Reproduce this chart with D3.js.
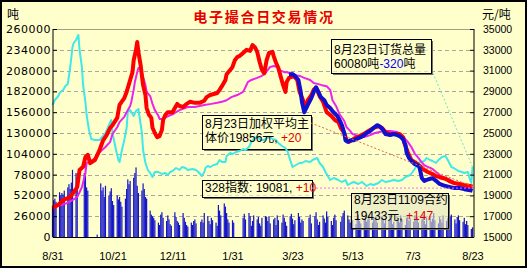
<!DOCTYPE html>
<html><head><meta charset="utf-8">
<script src="https://cdn.jsdelivr.net/npm/d3@7/dist/d3.min.js"></script>
<style>html,body{margin:0;padding:0;background:#fff;overflow:hidden}</style>
</head><body><svg id="c" width="528" height="271"></svg>
<script>
// ---------- data ----------
const title = "电子撮合日交易情况";
const leftUnit = "吨", rightUnit = "元/吨";
const leftTicks = [0,26000,52000,78000,104000,130000,156000,182000,208000,234000,260000];
const rightTicks = [15000,17000,19000,21000,23000,25000,27000,29000,31000,33000,35000];
const xTickDates = ["2010-08-31","2010-10-21","2010-12-11","2011-01-31","2011-03-23","2011-05-13","2011-07-03","2011-08-23"];
const holidays = ["2010-09-22","2010-09-23","2010-09-24","2010-10-01","2010-10-04","2010-10-05","2010-10-06","2010-10-07",
  "2011-01-03","2011-02-02","2011-02-03","2011-02-04","2011-02-07","2011-02-08","2011-04-04","2011-04-05","2011-05-02","2011-06-06"];

// daily volume (tons), one array per month of trading days
const vol201008 = [37500];
const vol201009 = [46000,48000,44000,56000,52000,55000,53000,58000,62000,66000,60000,68000,84000,80000,75000,80000,92000,62000,58000];
const vol201010 = [3000,67000,58000,62000,50000,64000,52000,57000,61000,45000,40000,52000,47000,50000,44000,38000];
const vol201011 = [48000,60000,72000,66000,70000,74000,80000,87000,64000,55000,58000,67000,60000,50000,48000,33000,28000,26000,24000,21000,18000,15000];
const vol201012 = [28000,31000,24000,20000,27000,22000,16000,14000,31000,25000,20000,18000,15000,30000,24000,19000,15000,13000,18000,15000,20000,22000,17000];
const vol201101 = [19000,22000,18000,30000,26000,20000,16000,24000,21000,18000,14000,40000,33000,27000,42000,38000,30000,22000,18000,21000];
const vol201102 = [18000,24000,29000,22000,30000,26000,14000,20000,27000,22000,25000,17000,14000,24000,26000];
const vol201103 = [25000,20000,26000,17000,22000,24000,15000,27000,21000,18000,28000,24000,19000,14000,26000,29000,23000,16000,21000,30000,25000,18000,22000];
const vol201104 = [20000,24000,28000,17000,26000,31000,22000,15000,19000,27000,23000,18000,32000,25000,20000,15000,24000,28000,21000];
const vol201105 = [19000,25000,30000,33000,27000,22000,18000,26000,21000,16000,24000,28000,20000,17000,23000,26000,19000,22000,27000,18000,24000];
const vol201106 = [21000,25000,18000,26000,22000,17000,24000,20000,28000,23000,16000,19000,25000,21000,18000,27000,22000,15000,24000,26000,20000];
const vol201107 = [23000,19000,27000,21000,25000,18000,22000,28000,20000,16000,24000,26000,19000,23000,30000,21000,17000,25000,22000,18000,27000];
const vol201108 = [20000,24000,18000,26000,28000,22000,17000,25000,27000,21000,19000,24000,16000,20000,15000,10000,12000];

// 订货总量 (tons, left axis)
const orderTotal = [["2010-08-31",165000],["2010-09-02",171250],["2010-09-05",176250],["2010-09-06",180000],["2010-09-09",183750],["2010-09-11",188750],["2010-09-13",191250],["2010-09-15",211250],["2010-09-17",237500],["2010-09-18",242500],["2010-09-20",246250],["2010-09-22",252500],["2010-09-23",233750],["2010-09-25",212500],["2010-09-26",190000],["2010-09-28",168750],["2010-09-29",152500],["2010-10-01",133750],["2010-10-03",122500],["2010-10-06",121250],["2010-10-10",121250],["2010-10-13",126250],["2010-10-15",130000],["2010-10-17",136250],["2010-10-19",143750],["2010-10-20",146250],["2010-10-21",130000],["2010-10-24",108750],["2010-10-26",96250],["2010-10-27",93750],["2010-10-29",108750],["2010-10-31",121250],["2010-11-02",136250],["2010-11-03",156250],["2010-11-05",158750],["2010-11-07",153750],["2010-11-08",151250],["2010-11-10",157500],["2010-11-12",160000],["2010-11-13",150000],["2010-11-15",130000],["2010-11-16",108750],["2010-11-18",92500],["2010-11-20",83750],["2010-11-22",80000],["2010-11-24",75000],["2010-11-26",81250],["2010-11-29",81250],["2010-12-02",78750],["2010-12-05",80000],["2010-12-07",77500],["2010-12-09",81250],["2010-12-11",82500],["2010-12-14",86250],["2010-12-17",83750],["2010-12-19",87500],["2010-12-22",86250],["2010-12-24",83750],["2010-12-28",85000],["2010-12-31",83750],["2011-01-02",81250],["2011-01-05",76250],["2011-01-07",81250],["2011-01-08",86250],["2011-01-10",88750],["2011-01-12",87500],["2011-01-15",90000],["2011-01-18",91250],["2011-01-20",96250],["2011-01-22",93750],["2011-01-25",93750],["2011-01-26",101250],["2011-01-29",105000],["2011-01-31",103750],["2011-02-03",106250],["2011-02-06",107500],["2011-02-09",110000],["2011-02-11",108750],["2011-02-14",112500],["2011-02-16",118750],["2011-02-19",123750],["2011-02-21",125000],["2011-02-24",121250],["2011-02-27",121250],["2011-03-01",123750],["2011-03-04",125000],["2011-03-06",122500],["2011-03-09",121250],["2011-03-11",117500],["2011-03-14",113750],["2011-03-17",111250],["2011-03-19",106250],["2011-03-21",96250],["2011-03-23",87500],["2011-03-26",90000],["2011-03-29",92500],["2011-03-31",92500],["2011-04-03",95000],["2011-04-07",93750],["2011-04-09",96250],["2011-04-13",98750],["2011-04-15",92500],["2011-04-18",87500],["2011-04-20",81250],["2011-04-24",71250],["2011-04-27",73750],["2011-05-01",71250],["2011-05-04",68750],["2011-05-07",71250],["2011-05-09",65000],["2011-05-12",67500],["2011-05-14",68750],["2011-05-18",66250],["2011-05-21",68750],["2011-05-25",63750],["2011-05-28",66250],["2011-05-31",65000],["2011-06-04",67500],["2011-06-07",71250],["2011-06-10",68750],["2011-06-14",70000],["2011-06-17",71250],["2011-06-21",70000],["2011-06-24",71250],["2011-06-27",75000],["2011-07-01",77500],["2011-07-03",81250],["2011-07-06",87500],["2011-07-08",92500],["2011-07-10",93750],["2011-07-13",95000],["2011-07-15",98750],["2011-07-18",96250],["2011-07-20",95000],["2011-07-23",92500],["2011-07-25",96250],["2011-07-28",100000],["2011-07-31",101250],["2011-08-02",96250],["2011-08-05",87500],["2011-08-07",86250],["2011-08-11",82500],["2011-08-14",81250],["2011-08-16",80000],["2011-08-19",81250],["2011-08-21",71250],["2011-08-22",67500],["2011-08-23",87500]];

// 加权平均主体价 (yuan/ton, right axis)
const weightedPrice = [["2010-08-31",17800],["2010-09-05",18100],["2010-09-09",18550],["2010-09-15",18850],["2010-09-18",19300],["2010-09-21",19800],["2010-09-23",21450],["2010-09-26",21750],["2010-09-28",22700],["2010-09-30",22900],["2010-10-02",22100],["2010-10-06",22400],["2010-10-10",23350],["2010-10-13",24300],["2010-10-16",24800],["2010-10-19",25500],["2010-10-21",25750],["2010-10-25",26450],["2010-10-27",27700],["2010-10-31",28350],["2010-11-02",28950],["2010-11-05",30100],["2010-11-07",30850],["2010-11-08",32000],["2010-11-10",33000],["2010-11-11",33750],["2010-11-12",32800],["2010-11-14",31450],["2010-11-16",29600],["2010-11-18",28650],["2010-11-19",27400],["2010-11-21",26750],["2010-11-23",26450],["2010-11-24",25500],["2010-11-26",25000],["2010-11-28",24600],["2010-11-30",24700],["2010-12-02",25300],["2010-12-03",26250],["2010-12-05",26750],["2010-12-07",27000],["2010-12-11",27000],["2010-12-13",27400],["2010-12-15",27800],["2010-12-17",27600],["2010-12-20",27500],["2010-12-23",27800],["2010-12-26",28000],["2010-12-30",27900],["2011-01-03",27900],["2011-01-07",28100],["2011-01-09",28450],["2011-01-12",28650],["2011-01-15",28750],["2011-01-18",28850],["2011-01-20",29150],["2011-01-22",29500],["2011-01-25",30100],["2011-01-26",30650],["2011-01-29",31050],["2011-01-31",31350],["2011-02-02",32000],["2011-02-04",32300],["2011-02-06",32400],["2011-02-09",32700],["2011-02-12",33000],["2011-02-15",32900],["2011-02-17",33450],["2011-02-19",33250],["2011-02-21",32800],["2011-02-23",31850],["2011-02-25",31050],["2011-02-27",30750],["2011-03-01",32000],["2011-03-03",32700],["2011-03-06",32800],["2011-03-07",32400],["2011-03-09",31750],["2011-03-11",31250],["2011-03-13",30400],["2011-03-15",29600],["2011-03-17",28950],["2011-03-18",29900],["2011-03-20",30300],["2011-03-22",30400],["2011-03-24",30500],["2011-03-27",30100],["2011-03-29",28950],["2011-04-01",28150],["2011-04-03",27400],["2011-04-05",28150],["2011-04-08",28650],["2011-04-10",29150],["2011-04-12",29350],["2011-04-15",28550],["2011-04-18",28000],["2011-04-21",27000],["2011-04-25",26650],["2011-04-28",26250],["2011-05-01",26050],["2011-05-03",25500],["2011-05-06",25000],["2011-05-08",24300],["2011-05-10",24150],["2011-05-15",24500],["2011-05-19",24700],["2011-05-24",25000],["2011-05-28",25300],["2011-06-01",25550],["2011-06-04",25650],["2011-06-07",25500],["2011-06-10",25100],["2011-06-14",24900],["2011-06-18",24900],["2011-06-22",24900],["2011-06-25",24600],["2011-06-26",24050],["2011-06-29",23150],["2011-07-02",22400],["2011-07-05",22200],["2011-07-09",21850],["2011-07-13",21450],["2011-07-16",21250],["2011-07-20",21050],["2011-07-23",20850],["2011-07-26",20750],["2011-07-31",20600],["2011-08-03",20400],["2011-08-07",20200],["2011-08-12",20100],["2011-08-16",20000],["2011-08-21",19900],["2011-08-23",19856]];

// 1109合约 (yuan/ton, right axis)
const contract1109 = [["2011-03-20",30600],["2011-03-23",30650],["2011-03-25",30500],["2011-03-28",30100],["2011-03-30",28950],["2011-03-31",28000],["2011-04-02",27000],["2011-04-05",27700],["2011-04-08",28350],["2011-04-10",28950],["2011-04-12",29400],["2011-04-14",28950],["2011-04-16",28450],["2011-04-19",28150],["2011-04-21",27700],["2011-04-24",27400],["2011-04-26",27100],["2011-04-30",26650],["2011-05-02",26250],["2011-05-04",25750],["2011-05-06",25000],["2011-05-07",24300],["2011-05-09",24150],["2011-05-12",24300],["2011-05-14",24300],["2011-05-18",24500],["2011-05-20",24600],["2011-05-23",24800],["2011-05-25",25000],["2011-05-28",25200],["2011-05-31",25500],["2011-06-03",25750],["2011-06-05",25650],["2011-06-08",25300],["2011-06-10",24900],["2011-06-14",24800],["2011-06-17",24900],["2011-06-20",24800],["2011-06-22",24700],["2011-06-25",24400],["2011-06-27",23850],["2011-06-28",23100],["2011-06-30",22600],["2011-07-03",22200],["2011-07-05",22000],["2011-07-08",21850],["2011-07-09",21650],["2011-07-11",20650],["2011-07-13",20400],["2011-07-15",20500],["2011-07-18",20600],["2011-07-20",20650],["2011-07-23",20400],["2011-07-26",20100],["2011-07-31",19900],["2011-08-04",19800],["2011-08-08",19700],["2011-08-12",19700],["2011-08-16",19600],["2011-08-21",19500],["2011-08-23",19433]];

// 328指数 (right axis)
const index328 = [["2010-08-31",17800],["2010-09-05",18000],["2010-09-12",18250],["2010-09-17",18550],["2010-09-21",18850],["2010-09-23",19300],["2010-09-25",19800],["2010-09-28",21150],["2010-09-29",22100],["2010-10-02",22300],["2010-10-04",22400],["2010-10-08",22700],["2010-10-10",23150],["2010-10-15",23650],["2010-10-19",24150],["2010-10-21",24900],["2010-10-25",25550],["2010-10-27",26050],["2010-10-31",26550],["2010-11-02",27000],["2010-11-05",27600],["2010-11-06",28000],["2010-11-08",29150],["2010-11-09",29900],["2010-11-11",30850],["2010-11-12",31250],["2010-11-14",31150],["2010-11-16",30400],["2010-11-18",29600],["2010-11-19",28950],["2010-11-22",28550],["2010-11-24",27800],["2010-11-26",27200],["2010-11-29",26650],["2010-11-30",26350],["2010-12-03",26350],["2010-12-06",26550],["2010-12-11",26800],["2010-12-14",27000],["2010-12-17",27200],["2010-12-24",27500],["2010-12-30",27500],["2011-01-03",27600],["2011-01-07",27700],["2011-01-13",27800],["2011-01-18",27900],["2011-01-22",28000],["2011-01-26",28150],["2011-01-30",28450],["2011-02-04",28650],["2011-02-09",28950],["2011-02-11",29400],["2011-02-13",29900],["2011-02-16",30100],["2011-02-21",30300],["2011-02-25",30500],["2011-02-28",30750],["2011-03-04",31350],["2011-03-07",31450],["2011-03-10",31350],["2011-03-12",31050],["2011-03-16",30850],["2011-03-18",30850],["2011-03-23",30750],["2011-03-27",30500],["2011-03-29",30500],["2011-04-02",30300],["2011-04-07",30100],["2011-04-10",29800],["2011-04-14",29700],["2011-04-17",29600],["2011-04-21",29500],["2011-04-24",29150],["2011-04-26",28150],["2011-04-29",27600],["2011-05-02",26800],["2011-05-06",26150],["2011-05-08",25550],["2011-05-11",25200],["2011-05-13",24900],["2011-05-18",24700],["2011-05-23",24600],["2011-05-28",24800],["2011-06-01",25000],["2011-06-05",25100],["2011-06-09",25200],["2011-06-14",25200],["2011-06-20",25100],["2011-06-24",24800],["2011-06-27",24400],["2011-06-29",24150],["2011-07-02",23650],["2011-07-05",23000],["2011-07-08",22600],["2011-07-10",22300],["2011-07-13",21900],["2011-07-16",21750],["2011-07-20",21550],["2011-07-23",21250],["2011-07-26",20950],["2011-07-31",20650],["2011-08-04",20500],["2011-08-08",20200],["2011-08-12",19900],["2011-08-16",19800],["2011-08-20",19800],["2011-08-23",19700]];

// ---------- chart ----------
const parse = d3.timeParse("%Y-%m-%d");
const fmtDay = d3.timeFormat("%Y-%m-%d");
const svg = d3.select("#c");
const BG = "#FFFFCC";
const BOXFONT = "'Liberation Sans', 'Noto Sans CJK SC', sans-serif";

svg.append("rect").attr("x",1).attr("y",1).attr("width",525).attr("height",266)
  .attr("fill",BG).attr("stroke","#000").attr("stroke-width",2);

const x = d3.scaleTime().domain([parse("2010-08-31"), parse("2011-08-24")]).range([52.5, 473.7]);
const yL = d3.scaleLinear().domain([0,260000]).range([237,29]);
const yR = d3.scaleLinear().domain([15000,35000]).range([237,29]);
const L = 53, R = 474;

// gridlines
svg.append("g").selectAll("line").data(leftTicks.filter(v=>v>0 && v<260000)).join("line")
  .attr("x1",L).attr("x2",R).attr("y1",d=>Math.round(yL(d))+0.5).attr("y2",d=>Math.round(yL(d))+0.5)
  .attr("stroke","#a8a8a0").attr("stroke-dasharray","4,3");
svg.append("line").attr("x1",L).attr("x2",R).attr("y1",29.5).attr("y2",29.5).attr("stroke","#a0a088");

// trading days
const hol = new Set(holidays);
const days = d3.timeDay.range(parse("2010-08-31"), parse("2011-08-24"))
  .filter(d => d.getDay()!==0 && d.getDay()!==6 && !hol.has(fmtDay(d)));
const monthly = [vol201008,vol201009,vol201010,vol201011,vol201012,vol201101,vol201102,vol201103,vol201104,vol201105,vol201106,vol201107,vol201108];
const groups = d3.groups(days, d => d3.timeFormat("%Y-%m")(d));
const bars = [];
groups.forEach((g,i) => g[1].forEach((d,j) => { if (monthly[i] && monthly[i][j]!=null) bars.push({d, v: monthly[i][j]}); }));

svg.append("g").selectAll("rect").data(bars).join("rect")
  .attr("x", b => x(b.d)-0.6).attr("width",1.2)
  .attr("y", b => yL(b.v)).attr("height", b => yL(0)-yL(b.v))
  .attr("fill","#1414c8");

// boxes (backgrounds)
const boxes = [
  {x0:331,y0:39,x1:431,y1:73, fill:BG, op:0.6},
  {x0:202,y0:115,x1:311,y1:149, fill:BG, op:0.6},
  {x0:202,y0:180,x1:312,y1:197, fill:BG, op:0.6},
  {x0:351,y0:193,x1:448,y1:228, fill:"#e4e4c0", op:0.6}
];
const bg = svg.append("g");
boxes.forEach(b => {
  bg.append("rect").attr("x",b.x1).attr("y",b.y0+2).attr("width",2).attr("height",b.y1-b.y0).attr("fill","#707070");
  bg.append("rect").attr("x",b.x0+2).attr("y",b.y1).attr("width",b.x1-b.x0).attr("height",2).attr("fill","#707070");
  bg.append("rect").attr("x",b.x0+0.5).attr("y",b.y0+0.5).attr("width",b.x1-b.x0).attr("height",b.y1-b.y0)
    .attr("fill",b.fill).attr("fill-opacity",b.op).attr("stroke","#000").attr("stroke-width",1);
});

// lines
const pts = arr => arr.map(([d,v]) => ({d: parse(d), v}));
const lineL = d3.line().x(p=>x(p.d)).y(p=>yL(p.v));
const lineR = d3.line().x(p=>x(p.d)).y(p=>yR(p.v));
const cyan = pts(orderTotal), red = pts(weightedPrice), blue = pts(contract1109), mag = pts(index328);
svg.append("path").attr("d",lineL(cyan)).attr("fill","none").attr("stroke","#40e8e8").attr("stroke-width",2).attr("stroke-linejoin","round");
svg.append("path").attr("d",lineR(mag)).attr("fill","none").attr("stroke","#ee22ee").attr("stroke-width",2).attr("stroke-linejoin","round");
svg.append("path").attr("d",lineR(red)).attr("fill","none").attr("stroke","#ff0000").attr("stroke-width",4).attr("stroke-linejoin","round");
svg.append("path").attr("d",lineR(blue)).attr("fill","none").attr("stroke","#1010d0").attr("stroke-width",4).attr("stroke-linejoin","round");

// callout lines
const lastC = cyan[cyan.length-1], lastR = red[red.length-1], lastM = mag[mag.length-1];
svg.append("line").attr("x1",433).attr("y1",73).attr("x2",x(lastC.d)).attr("y2",yL(lastC.v))
  .attr("stroke","#70e0c8").attr("stroke-dasharray","2,2");
svg.append("line").attr("x1",311).attr("y1",123).attr("x2",x(lastR.d)).attr("y2",yR(lastR.v))
  .attr("stroke","#e06a3a").attr("stroke-dasharray","2,2");
svg.append("line").attr("x1",312).attr("y1",yR(lastM.v)).attr("x2",x(lastM.d)).attr("y2",yR(lastM.v))
  .attr("stroke","#ff66ff").attr("stroke-dasharray","2,2");

// frame axes
svg.append("line").attr("x1",L).attr("x2",L).attr("y1",29).attr("y2",237.5).attr("stroke","#000");
svg.append("line").attr("x1",R).attr("x2",R).attr("y1",29).attr("y2",237.5).attr("stroke","#000");
svg.append("line").attr("x1",L).attr("x2",R).attr("y1",237.5).attr("y2",237.5).attr("stroke","#000");

const gl = svg.append("g").attr("transform",`translate(${L},0)`)
  .call(d3.axisLeft(yL).tickValues(leftTicks).tickSizeInner(-4).tickSizeOuter(0).tickPadding(2).tickFormat(d3.format("d")));
gl.select(".domain").remove();
gl.selectAll("text").attr("font-family","DejaVu Sans").attr("font-size",11).attr("letter-spacing",0.5).attr("fill","#000");
gl.selectAll("line").attr("stroke","#000");

const gr = svg.append("g").attr("transform",`translate(${R},0)`)
  .call(d3.axisRight(yR).tickValues(rightTicks).tickSizeInner(-4).tickSizeOuter(0).tickPadding(9).tickFormat(d3.format("d")));
gr.select(".domain").remove();
gr.selectAll("text").attr("font-family","Liberation Sans").attr("font-size",10.5).attr("fill","#000");
gr.selectAll("line").attr("stroke","#000");

const gb = svg.append("g").attr("transform","translate(0,237)")
  .call(d3.axisBottom(x).tickValues(xTickDates.map(parse)).tickSize(0).tickPadding(15).tickFormat(d3.timeFormat("%-m/%-d")));
gb.select(".domain").remove();
gb.selectAll("text").attr("font-family","Liberation Sans").attr("font-size",11).attr("fill","#000");

// title & units
svg.append("text").attr("x",264).attr("y",22).attr("text-anchor","middle")
  .attr("font-family","Noto Sans CJK SC").attr("font-weight","bold").attr("font-size",14).attr("letter-spacing",1.7)
  .attr("fill","#e60000").text(title);
svg.append("text").attr("x",7).attr("y",19).attr("font-family","Noto Sans CJK SC").attr("font-size",12).text(leftUnit);
svg.append("text").attr("x",482).attr("y",19).attr("font-family","Noto Sans CJK SC").attr("font-size",12).text(rightUnit);

// box texts: one text element per line, colored tspans
function tline(xp, yp, parts){
  const t = svg.append("text").attr("x",xp).attr("y",yp).attr("font-family",BOXFONT).attr("font-size",12);
  parts.forEach(([s,c]) => t.append("tspan").attr("fill",c).text(s));
}
tline(334,54,[["8月23日订货总量","#000"]]);
tline(334,68,[["60080吨","#000"],["-320","#0000ff"],["吨","#000"]]);
tline(205,128,[["8月23日加权平均主","#000"]]);
tline(205,142,[["体价19856元, ","#000"],["+20","#e00000"]]);
tline(205,192,[["328指数: 19081, ","#000"],["+10","#e00000"]]);
tline(354,204,[["8月23日1109合约","#000"]]);
tline(354,220,[["19433元, ","#000"],["+147","#e00000"]]);
</script></body></html>
